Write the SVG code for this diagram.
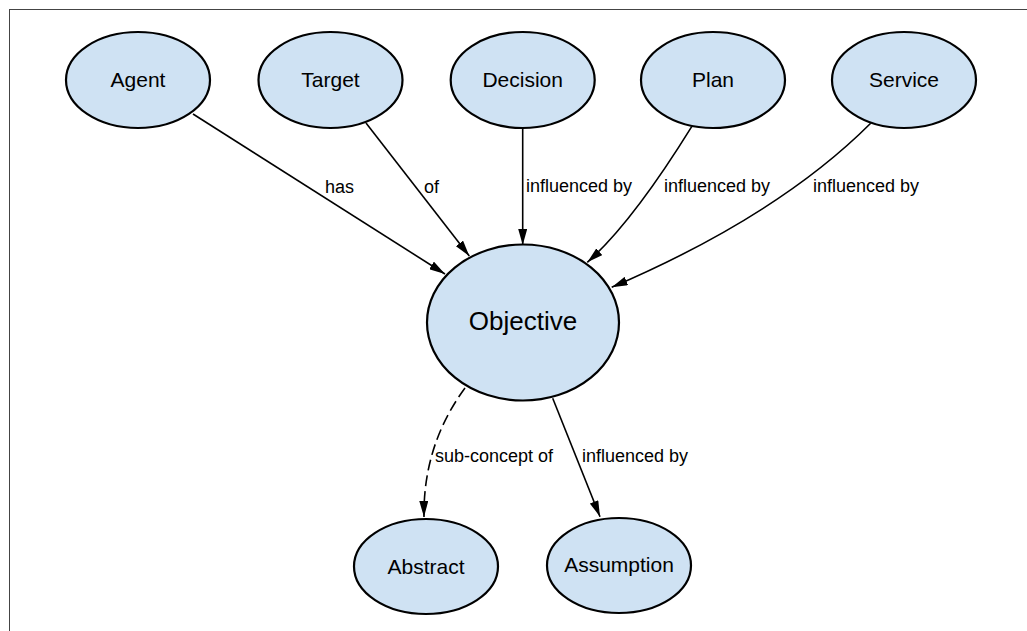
<svg xmlns="http://www.w3.org/2000/svg" width="1027" height="631" viewBox="0 0 1027 631">
<style>
.node ellipse{fill:#cfe2f3;stroke:#000;stroke-width:2.2}
.node text{font-family:"Liberation Sans",Arial,sans-serif;font-size:21px;fill:#000;text-anchor:middle}
.edge{fill:none;stroke:#000;stroke-width:1.6;marker-end:url(#arr)}
.dash{stroke-dasharray:11,5}
.lbl{font-family:"Liberation Sans",Arial,sans-serif;font-size:18px;fill:#000}
</style>
<defs>
<marker id="arr" markerUnits="userSpaceOnUse" markerWidth="16" markerHeight="9" refX="16" refY="4.5" orient="auto">
<path d="M0,0 L16,4.5 L0,9 z" fill="#000"/>
</marker>
</defs>
<rect width="1027" height="631" fill="#fff"/>
<rect x="9.5" y="9.5" width="1030" height="640" fill="none" stroke="#444" stroke-width="1"/>
<g id="connectors">
<path class="edge" d="M193,114 L445,274"/>
<path class="edge" d="M366,123 L469.3,256"/>
<path class="edge" d="M522.7,128 L522.7,245"/>
<path class="edge" d="M691.7,126.7 Q632,223 587.3,262.3"/>
<path class="edge" d="M870.7,123.3 Q778,216 611.7,287.3"/>
<path class="edge dash" d="M465,388 Q423,445 424,517"/>
<path class="edge" d="M552.7,398.3 L600,516.7"/>
<text class="lbl" x="325" y="193">has</text>
<text class="lbl" x="424" y="193">of</text>
<text class="lbl" x="526" y="192">influenced by</text>
<text class="lbl" x="664" y="192">influenced by</text>
<text class="lbl" x="813" y="192">influenced by</text>
<text class="lbl" x="435" y="462">sub-concept of</text>
<text class="lbl" x="582" y="462">influenced by</text>
</g>
<g id="agent" class="node"><ellipse cx="138" cy="80" rx="72" ry="48"/><text x="138" y="86.5">Agent</text></g>
<g id="target" class="node"><ellipse cx="330.5" cy="80" rx="72" ry="48"/><text x="330.5" y="86.5">Target</text></g>
<g id="decision" class="node"><ellipse cx="522.7" cy="80" rx="72" ry="48"/><text x="522.7" y="87">Decision</text></g>
<g id="plan" class="node"><ellipse cx="713" cy="80" rx="72" ry="48"/><text x="713" y="87">Plan</text></g>
<g id="service" class="node"><ellipse cx="904" cy="80" rx="72" ry="48"/><text x="904" y="87">Service</text></g>
<g id="objective" class="node"><ellipse cx="523" cy="322.5" rx="96" ry="78"/><text x="523" y="329.5" style="font-size:26px">Objective</text></g>
<g id="abstract" class="node"><ellipse cx="426" cy="566.5" rx="72" ry="47.5"/><text x="426" y="573.5">Abstract</text></g>
<g id="assumption" class="node"><ellipse cx="619" cy="565.5" rx="72" ry="47.5"/><text x="619" y="572">Assumption</text></g>
</svg>
